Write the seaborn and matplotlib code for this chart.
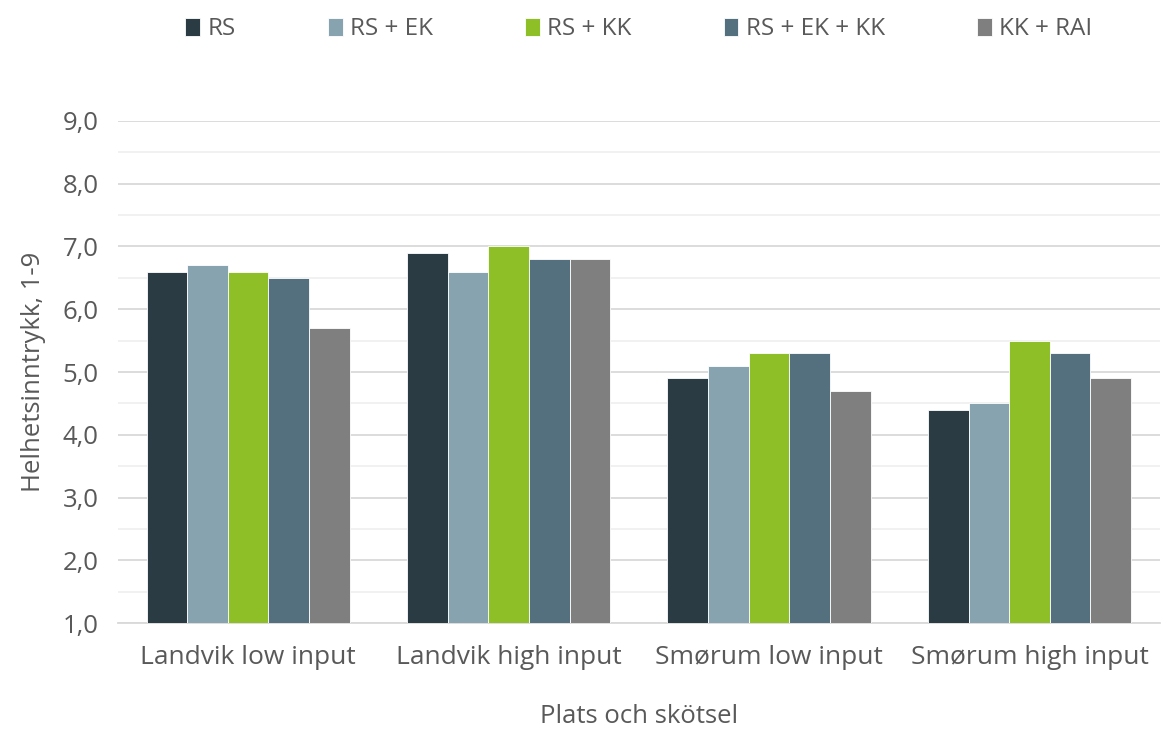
import pandas as pd
import matplotlib.pyplot as plt
import seaborn as sns
from matplotlib.ticker import FuncFormatter, MultipleLocator

sites = ['Landvik low input', 'Landvik high input', 'Smørum low input', 'Smørum high input']
treatments = ['RS', 'RS + EK', 'RS + KK', 'RS + EK + KK', 'KK + RAI']
values = {
    'RS':           [6.6, 6.9, 4.9, 4.4],
    'RS + EK':      [6.7, 6.6, 5.1, 4.5],
    'RS + KK':      [6.6, 7.0, 5.3, 5.5],
    'RS + EK + KK': [6.5, 6.8, 5.3, 5.3],
    'KK + RAI':     [5.7, 6.8, 4.7, 4.9],
}
colors = ['#2b3b43', '#87a3af', '#8fbf26', '#54707e', '#7f7f7f']

rows = []
for t in treatments:
    for s, v in zip(sites, values[t]):
        rows.append({'site': s, 'treatment': t, 'value': v})
df = pd.DataFrame(rows)

sns.set_style('white')
plt.rcParams['font.family'] = ['Open Sans', 'DejaVu Sans']
txt = '#595959'

fig = plt.figure(figsize=(11.62, 7.31), dpi=100)
ax = fig.add_axes([0.1015, 0.1477, 0.8965, 0.6868])

sns.barplot(data=df, x='site', y='value', hue='treatment', hue_order=treatments,
            palette=colors, saturation=1, width=0.78, edgecolor='white', linewidth=0.6,
            errorbar=None, ax=ax, zorder=3)

ax.set_ylim(1, 9)
ax.yaxis.set_major_locator(MultipleLocator(1))
ax.yaxis.set_minor_locator(MultipleLocator(0.5))
ax.yaxis.set_major_formatter(FuncFormatter(lambda v, p: f'{v:.1f}'.replace('.', ',')))
ax.grid(axis='y', which='major', color='#d9d9d9', linewidth=1.3, zorder=0)
ax.grid(axis='y', which='minor', color='#f0f0f0', linewidth=1.3, zorder=0)
ax.set_axisbelow(True)

for sp in ['top', 'right', 'left']:
    ax.spines[sp].set_visible(False)
ax.spines['bottom'].set_color('#d9d9d9')
ax.spines['bottom'].set_linewidth(1.3)

ax.tick_params(axis='y', which='both', length=0, labelsize=18.5, labelcolor=txt, pad=14)
ax.tick_params(axis='x', length=0, labelsize=19, labelcolor=txt, pad=16)

ax.set_xlabel('Plats och skötsel', fontsize=18.5, color=txt, labelpad=24)
ax.set_ylabel('Helhetsinntrykk, 1-9', fontsize=18.5, color=txt, labelpad=12)

ax.legend(loc='upper center', bbox_to_anchor=(0.5, 1.25), ncol=5, frameon=False,
          fontsize=17.5, labelcolor=txt, handlelength=0.6, handleheight=0.75,
          handletextpad=0.3, columnspacing=3.8)

fig.savefig('out.png', dpi=100)
